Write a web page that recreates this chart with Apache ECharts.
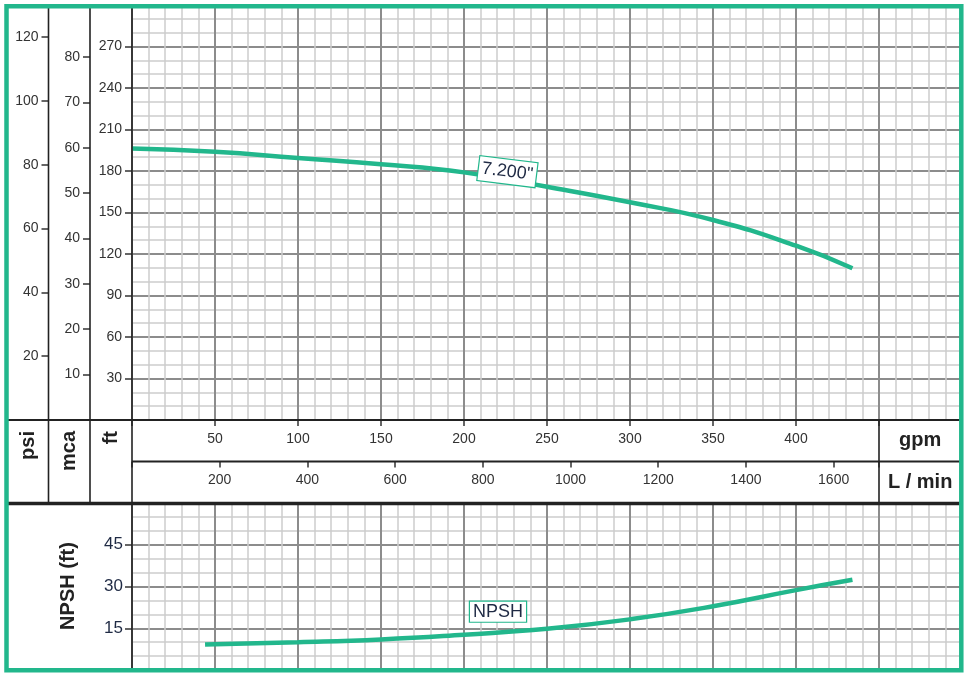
<!DOCTYPE html>
<html><head><meta charset="utf-8">
<script src="https://cdn.jsdelivr.net/npm/echarts@6/dist/echarts.min.js"></script>
<style>html,body{margin:0;padding:0;background:#fff}#c{width:970px;height:679px}</style>
</head><body><div id="c"></div>
<script>
// ---- data ----
const gpmTicks = [50, 100, 150, 200, 250, 300, 350, 400];
const lminTicks = [200, 400, 600, 800, 1000, 1200, 1400, 1600];
const ftTicks = [30, 60, 90, 120, 150, 180, 210, 240, 270];
const psiTicks = [20, 40, 60, 80, 100, 120];
const mcaTicks = [10, 20, 30, 40, 50, 60, 70, 80];
const npshTicks = [15, 30, 45];
const headFlow = [0, 50, 100, 150, 200, 250, 300, 350, 400, 434];
const headFt = [196.3, 194.0, 189.4, 184.9, 179.0, 168.6, 157.4, 144.6, 126.0, 109.7];
const npshFlow = [44, 100, 150, 200, 250, 300, 350, 400, 434];
const npshFt = [9.2, 10.0, 11.0, 12.7, 14.8, 18.2, 22.9, 28.7, 32.4];
const curveName = '7.200"';
const npshName = 'NPSH';

// ---- unit conversions ----
const FT_PER_PSI = 2.30666, FT_PER_M = 3.28084, LPM_PER_GPM = 3.78541;
const GPM_MAX = 500, GPM_UNIT_COL = 450, FT_MAX = 300, NPSH_MAX = 60;
const PSI_MAX = psiTicks[psiTicks.length - 1], MCA_MAX = mcaTicks[mcaTicks.length - 1];

// ---- layout ----
const L = { left: 132, right: 962, top: 5, bottom: 420, mid: 461.5, npTop: 503, npBottom: 670, c1: 48.5, c2: 90, frameL: 6.5, frameT: 6.3, frameR: 961.3, frameB: 670.3 };
const GREEN = '#22b78c', DARK = '#222', FONT = '"Liberation Sans", Arial, sans-serif';
const MAJOR = '#8c8c8c', MINOR = '#cdcdcd';
const pxPerFt = (L.bottom - L.top) / FT_MAX;
const pxPerGpm = (L.right - L.left) / GPM_MAX;
const psiTop = L.bottom - PSI_MAX * FT_PER_PSI * pxPerFt;
const mcaTop = L.bottom - MCA_MAX * FT_PER_M * pxPerFt;
const unitX = L.left + GPM_UNIT_COL * pxPerGpm;

const chart = echarts.init(document.getElementById('c'), null, { renderer: 'canvas' });

const lbl = (arr, extra) => Object.assign({
  formatter: v => arr.includes(Math.round(v * 1000) / 1000) ? String(v) : '',
  fontSize: 14, color: '#333', fontFamily: FONT
}, extra || {});
const tick = len => ({ show: true, length: len, lineStyle: { color: '#333', width: 1.5 } });

const headData = headFlow.map((f, i) => {
  const it = { value: [f, headFt[i]] };
  if (f === 200) it.label = {
    show: true, formatter: curveName, position: 'inside', offset: [43, -6], rotate: -7,
    fontSize: 18, lineHeight: 18, color: '#1f2a44', fontFamily: FONT,
    backgroundColor: '#fff', borderColor: GREEN, borderWidth: 1.2, padding: [3, 3]
  };
  return it;
});
const npshData = npshFlow.map((f, i) => {
  const it = { value: [f, npshFt[i]] };
  if (f === 200) it.label = {
    show: true, formatter: npshName, position: 'inside', offset: [34, -23],
    fontSize: 18, lineHeight: 18, color: '#1f2a44', fontFamily: FONT,
    backgroundColor: '#fff', borderColor: GREEN, borderWidth: 1.2, padding: [1, 3]
  };
  return it;
});

const lineCommon = {
  type: 'line', smooth: 0.5, showSymbol: true, symbol: 'circle', symbolSize: 0,
  lineStyle: { color: GREEN, width: 4.5, cap: 'butt' }, itemStyle: { color: GREEN },
  emphasis: { disabled: true }, silent: true, animation: false, z: 5
};
const hidden = g => ({ gridIndex: g, type: 'value', min: 0, max: 1, show: false });

chart.setOption({
  animation: false,
  grid: [
    { left: L.left, top: L.top, width: L.right - L.left, height: L.bottom - L.top },
    { left: L.left, top: L.npTop, width: L.right - L.left, height: L.npBottom - L.npTop },
    { left: L.left, top: L.bottom + 1, width: unitX - L.left, height: L.mid - L.bottom - 1 },
    { left: L.c1, top: psiTop, width: 1, height: L.bottom - psiTop },
    { left: L.c2, top: mcaTop, width: 1, height: L.bottom - mcaTop }
  ],
  xAxis: [
    { gridIndex: 0, type: 'value', min: 0, max: GPM_MAX, interval: 50, position: 'bottom',
      axisLine: { show: false }, axisTick: tick(6), axisLabel: lbl(gpmTicks, { margin: 12 }),
      splitLine: { show: true, lineStyle: { color: MAJOR, width: 2 } },
      minorTick: { show: false, splitNumber: 5 },
      minorSplitLine: { show: true, lineStyle: { color: MINOR, width: 1.5 } } },
    { gridIndex: 2, type: 'value', min: 0, max: GPM_UNIT_COL * LPM_PER_GPM, interval: 200, position: 'bottom',
      axisLine: { show: false }, axisTick: tick(6),
      axisLabel: lbl(lminTicks, { margin: 12 }), splitLine: { show: false } },
    { gridIndex: 1, type: 'value', min: 0, max: GPM_MAX, interval: 50,
      axisLine: { show: false }, axisTick: { show: false }, axisLabel: { show: false },
      splitLine: { show: true, lineStyle: { color: MAJOR, width: 2 } },
      minorTick: { show: false, splitNumber: 5 },
      minorSplitLine: { show: true, lineStyle: { color: MINOR, width: 1.5 } } },
    hidden(3),
    hidden(4)
  ],
  yAxis: [
    { gridIndex: 0, type: 'value', min: 0, max: FT_MAX, interval: 30, position: 'left',
      axisLine: { show: false }, axisTick: tick(7), axisLabel: lbl(ftTicks, { margin: 10 }),
      splitLine: { show: true, lineStyle: { color: MAJOR, width: 2 } },
      minorTick: { show: false, splitNumber: 3 },
      minorSplitLine: { show: true, lineStyle: { color: MINOR, width: 1.5 } } },
    { gridIndex: 3, type: 'value', min: 0, max: PSI_MAX, interval: 20, position: 'left',
      axisLine: { show: false }, axisTick: tick(7),
      axisLabel: lbl(psiTicks, { margin: 10 }), splitLine: { show: false } },
    { gridIndex: 4, type: 'value', min: 0, max: MCA_MAX, interval: 10, position: 'left',
      axisLine: { show: false }, axisTick: tick(7),
      axisLabel: lbl(mcaTicks, { margin: 10 }), splitLine: { show: false } },
    { gridIndex: 1, type: 'value', min: 0, max: NPSH_MAX, interval: 15, position: 'left',
      axisLine: { show: false }, axisTick: tick(7),
      axisLabel: lbl(npshTicks, { margin: 9, fontSize: 17, color: '#1f2a44' }),
      splitLine: { show: true, lineStyle: { color: MAJOR, width: 2 } },
      minorTick: { show: false, splitNumber: 3 },
      minorSplitLine: { show: true, lineStyle: { color: MINOR, width: 1.5 } } },
    hidden(2)
  ],
  series: [
    Object.assign({}, lineCommon, { name: curveName, xAxisIndex: 0, yAxisIndex: 0, data: headData }),
    Object.assign({}, lineCommon, { name: npshName, xAxisIndex: 2, yAxisIndex: 3, data: npshData })
  ]
});

const seg = (x1, y1, x2, y2, w) => ({ type: 'line', z: 50, silent: true,
  shape: { x1, y1, x2, y2 }, style: { stroke: DARK, lineWidth: w || 1.6 } });
const txt = (x, y, text, rot, align, size) => ({ type: 'text', z: 60, silent: true, x, y,
  rotation: rot || 0,
  style: { text, font: 'bold ' + (size || 20) + 'px ' + FONT, fill: DARK,
    align: align || 'center', textAlign: align || 'center', verticalAlign: 'middle', textVerticalAlign: 'middle' } });

chart.setOption({
  graphic: { elements: [
    seg(L.c1, L.frameT, L.c1, L.npTop),
    seg(L.c2, L.frameT, L.c2, L.npTop),
    seg(L.left, L.frameT, L.left, L.npBottom),
    seg(L.frameL, L.bottom, L.right, L.bottom, 2),
    seg(L.left, L.mid, L.right, L.mid, 2),
    seg(unitX, L.bottom, unitX, L.npTop, 1.6),
    seg(L.frameL, L.npTop + 0.5, L.right, L.npTop + 0.5, 3.5),
    txt((L.frameL + L.c1) / 2 + 1, 431, 'psi', Math.PI / 2, 'right'),
    txt((L.c1 + L.c2) / 2, 431, 'mca', Math.PI / 2, 'right'),
    txt((L.c2 + L.left) / 2, 431, 'ft', Math.PI / 2, 'right'),
    txt((unitX + L.frameR) / 2, (L.bottom + L.mid) / 2, 'gpm'),
    txt((unitX + L.frameR) / 2, (L.mid + L.npTop) / 2, 'L / min'),
    txt(68, 586, 'NPSH (ft)', Math.PI / 2, 'center'),
    { type: 'rect', z: 100, silent: true,
      shape: { x: L.frameL, y: L.frameT, width: L.frameR - L.frameL, height: L.frameB - L.frameT },
      style: { fill: 'none', stroke: GREEN, lineWidth: 4.5 } }
  ] }
});
</script>
</body></html>
